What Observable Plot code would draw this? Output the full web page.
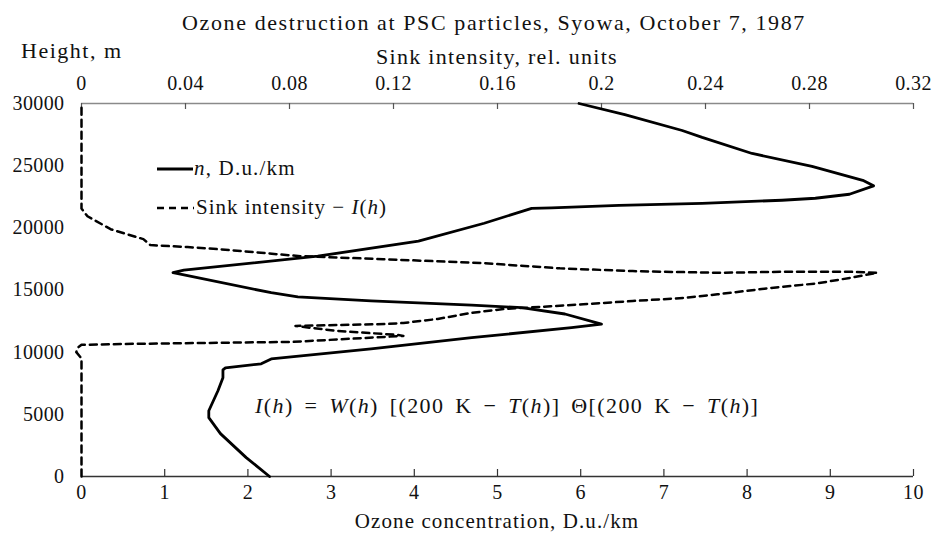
<!DOCTYPE html>
<html><head><meta charset="utf-8">
<script src="https://cdn.jsdelivr.net/npm/d3@7"></script>
<script src="https://cdn.jsdelivr.net/npm/@observablehq/plot@0.6"></script>
<style>
body{margin:0;background:#fff}
svg{font-family:"Liberation Serif",serif}
</style>
</head><body><div id="chart"></div>
<script>
// Ozone concentration profile n (D.u./km) vs height (m)
const ozoneHeight = [30000,29110,27830,27270,25980,24940,23820,23380,22700,22380,22220,21970,21810,21600,21570,20370,18930,17720,16600,16400,14780,14440,14120,13790,13580,13070,12250,11970,11170,10270,9460,9060,8740,8580,7940,6900,5290,4730,3450,1520,0];
const ozoneValue  = [5.98,6.53,7.22,7.46,8.06,8.78,9.39,9.52,9.23,8.82,8.42,7.46,6.46,5.65,5.41,4.84,4.05,2.84,1.23,1.10,2.28,2.60,3.48,4.69,5.29,5.81,6.25,5.89,4.69,3.48,2.28,2.16,1.73,1.70,1.70,1.64,1.53,1.53,1.67,1.98,2.26];
// Sink intensity I(h) (rel. units) vs height (m)
const sinkHeight = [0,9500,10000,10350,10590,10670,10830,11310,11390,11710,12110,12270,12350,12670,13150,13470,13690,13850,14115,14356,14650,15130,15535,15980,16385,16465,16465,16385,16520,16740,17160,17480,17720,18290,18450,18610,19090,19890,20930,21550,30000];
const sinkValue  = [0,0,-0.002,-0.0015,0,0.02,0.0815,0.1238,0.1215,0.098,0.0823,0.1177,0.1238,0.137,0.1496,0.1623,0.1804,0.193,0.212,0.2315,0.2446,0.2638,0.283,0.2958,0.306,0.2958,0.27,0.2446,0.212,0.184,0.1546,0.116,0.0842,0.0523,0.0408,0.0265,0.0238,0.0112,0.0023,0,0];
// Axes
const ozoneTicks  = [0,1,2,3,4,5,6,7,8,9,10];
const sinkTicks   = [0,0.04,0.08,0.12,0.16,0.2,0.24,0.28,0.32];
const sinkTickLabels = ["0","0.04","0.08","0.12","0.16","0.2","0.24","0.28","0.32"];
const heightTicks = [0,5000,10000,15000,20000,25000,30000];
const ozoneMax = 10, sinkMax = 0.32;

const toX = s => s * ozoneMax / sinkMax;
const ozone = ozoneHeight.map((h,i)=>({h, v: ozoneValue[i]}));
const sink = sinkHeight.map((h,i)=>({h, v: toX(sinkValue[i])}));

const W=946, H=539, mT=103, mB=63, mL=81, mR=33;
const plotH = H - mT - mB;

const chart = Plot.plot({
  width: W, height: H,
  marginTop: mT, marginBottom: mB, marginLeft: mL, marginRight: mR,
  style: {fontFamily: '"Liberation Serif", serif', fontSize: "20px", color: "#111", background: "#fff", overflow: "visible"},
  x: {domain: [0, ozoneMax]},
  y: {domain: [0, 30000]},
  marks: [
    Plot.ruleY([30000], {stroke: "#8a8a8a", strokeWidth: 1.6}),
    Plot.ruleY([0], {stroke: "#333", strokeWidth: 1.6}),
    Plot.tickX(sinkTicks.map(toX), {stroke: "#555", strokeWidth: 1.2, insetBottom: plotH - 6}),
    Plot.tickX(ozoneTicks, {stroke: "#333", strokeWidth: 1.2, insetTop: plotH - 7}),
    Plot.axisX({anchor: "bottom", ticks: ozoneTicks, tickSize: 0, tickPadding: 8, label: null, tickFormat: d => String(d)}),
    Plot.axisX({anchor: "top", ticks: sinkTicks.map(toX), tickSize: 0, tickPadding: 14, label: null,
      tickFormat: d => sinkTickLabels[sinkTicks.findIndex(s => Math.abs(toX(s) - d) < 1e-6)]}),
    Plot.axisY({ticks: heightTicks, tickSize: 0, tickPadding: 17, label: null, tickFormat: d => String(d)}),
    Plot.line(sink, {x: "v", y: "h", stroke: "#000", strokeWidth: 2.5, strokeDasharray: "7,5"}),
    Plot.line(ozone, {x: "v", y: "h", stroke: "#000", strokeWidth: 2.8, strokeLinejoin: "round"})
  ]
});

const svg = d3.select(chart);
svg.selectAll("g[aria-label*='tick label'] text").style("letter-spacing", "0.4px");
const cx = (mL + (W - mR)) / 2;
function label(x, y, anchor, size, ls, parts, ws) {
  const t = svg.append("text").attr("x", x).attr("y", y).attr("text-anchor", anchor)
    .attr("dominant-baseline", "central").style("font-size", size + "px").style("letter-spacing", ls + "px")
    .style("word-spacing", (ws || 0) + "px").attr("fill", "#111");
  parts.forEach(p => {
    const s = t.append("tspan").text(p[0]);
    if (p[1]) s.style("font-style", "italic");
  });
  return t;
}
label(cx - 3, 22, "middle", 22, 1.6, [["Ozone destruction at PSC particles, Syowa, October 7, 1987"]]);
label(21, 50, "start", 22, 1.5, [["Height, m"]]);
label(cx, 56, "middle", 22, 1.3, [["Sink intensity, rel. units"]]);
label(cx, 521, "middle", 21, 1.1, [["Ozone concentration, D.u./km"]]);

// Legend
svg.append("line").attr("x1", 157).attr("x2", 193).attr("y1", 169).attr("y2", 169)
  .attr("stroke", "#000").attr("stroke-width", 3);
label(194, 168, "start", 21, 1.2, [["n", true], [", D.u./km"]]);
svg.append("line").attr("x1", 157).attr("x2", 194).attr("y1", 208).attr("y2", 208)
  .attr("stroke", "#000").attr("stroke-width", 2.5).attr("stroke-dasharray", "7,5");
label(196, 207, "start", 21, 1.0, [["Sink intensity \u2212 "], ["I", true], ["("], ["h", true], [")"]]);

// Formula
label(255, 405, "start", 22, 1.4, [["I", true], ["("], ["h", true], [") = "], ["W", true], ["("], ["h", true],
  [") [(200 K \u2212 "], ["T", true], ["("], ["h", true], [")] \u0398[(200 K \u2212 "], ["T", true], ["("], ["h", true], [")]"]], 4);

document.getElementById("chart").appendChild(chart);
</script>
</body></html>
